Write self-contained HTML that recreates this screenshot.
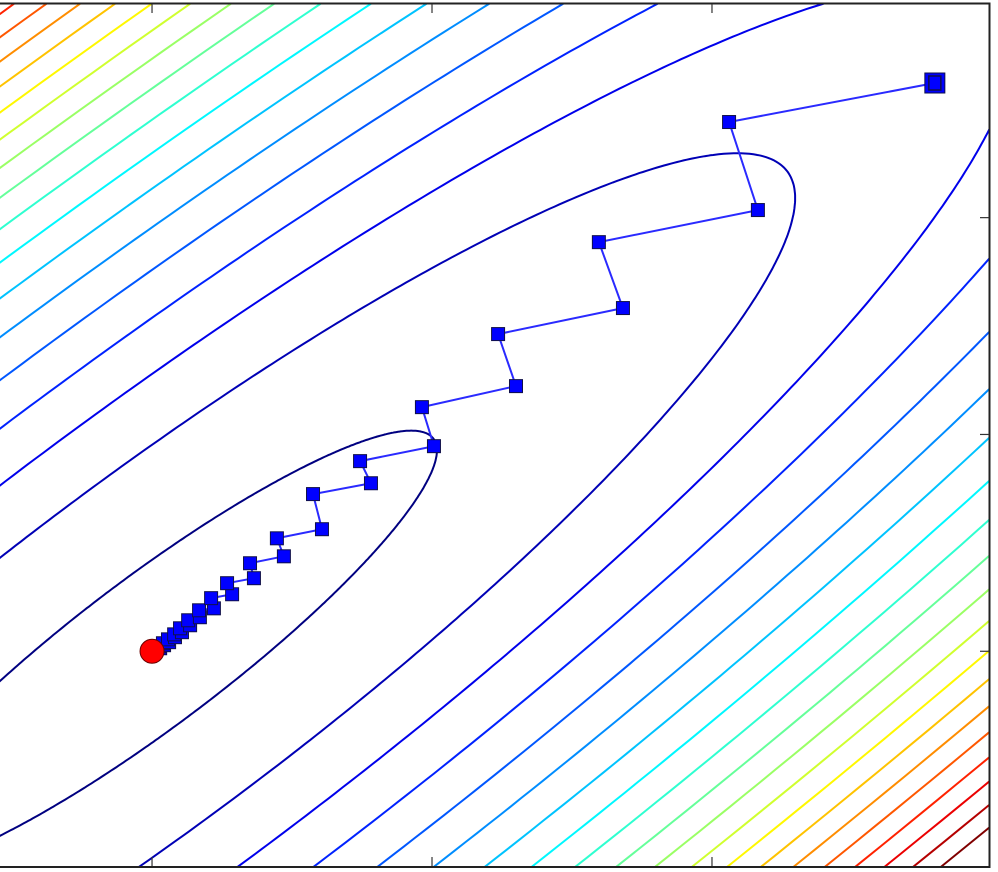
<!DOCTYPE html>
<html><head><meta charset="utf-8">
<style>
html,body{margin:0;padding:0;background:#fff;width:998px;height:872px;overflow:hidden;}
svg{display:block;overflow:hidden;}
</style></head>
<body>
<svg id="chart" width="998" height="872" viewBox="0 0 998 872" xmlns="http://www.w3.org/2000/svg">
  <defs><clipPath id="plotclip"><rect x="0" y="3" width="990" height="864"/></clipPath></defs>
  <rect x="0" y="0" width="998" height="872" fill="#fff"/>
  <g id="contours" clip-path="url(#plotclip)"></g>
  <g id="path" clip-path="url(#plotclip)"></g>
  <g id="axes"></g>
</svg>
<script>
// quadratic f(x,y) = qa*x^2 + qb*x*y + qc*y^2
const quadCoeffs = [1.0, -1.82, 1.0];
const contourLevels = [0.178,0.907,1.636,2.365,3.094,3.823,4.552,5.281,6.010,6.739,7.468,8.197,8.926,9.655,10.384,11.113,11.842,12.571,13.300,14.029];
const pathX = [2.796,2.061,2.164,1.596,1.682,1.236,1.300,0.964,1.007,0.743,0.782,0.575,0.607,0.446,0.471,0.350,0.364,0.268,0.286,0.211,0.221,0.168,0.171,0.129,0.136,0.100,0.107,0.079,0.082,0.057,0.061,0.039,0.043,0.025,0.029];
const pathY = [2.621,2.441,2.035,1.887,1.583,1.463,1.223,1.126,0.946,0.877,0.775,0.725,0.563,0.521,0.438,0.406,0.337,0.314,0.263,0.245,0.198,0.189,0.157,0.143,0.120,0.106,0.088,0.078,0.065,0.055,0.042,0.037,0.028,0.023,0.014];
const minimumPoint = [0, 0];
const xTicks = [0, 1, 2];
const yTicks = [0, 1, 2];

const X0=-0.543, X1=2.993, PX0=0, PX1=990;
const Y0=-0.995, Y1=2.99, PY0=867, PY1=3;
function sx(v){return PX0+(v-X0)/(X1-X0)*(PX1-PX0);}
function sy(v){return PY0+(v-Y0)/(Y1-Y0)*(PY1-PY0);}
const NS='http://www.w3.org/2000/svg';
function mk(tag,attrs,parent){const e=document.createElementNS(NS,tag);for(const k in attrs)e.setAttribute(k,attrs[k]);parent.appendChild(e);return e;}
function jet(t){
  const r=Math.min(Math.max(Math.min(4*t-1.5,-4*t+4.5),0),1);
  const g=Math.min(Math.max(Math.min(4*t-0.5,-4*t+3.5),0),1);
  const b=Math.min(Math.max(Math.min(4*t+0.5,-4*t+2.5),0),1);
  return 'rgb('+Math.round(r*255)+','+Math.round(g*255)+','+Math.round(b*255)+')';
}
const qa=quadCoeffs[0], qb=quadCoeffs[1]/2, qc=quadCoeffs[2];
const tr=(qa+qc)/2, df=Math.sqrt(((qa-qc)/2)**2+qb*qb);
const l1=tr-df, l2=tr+df;
const ang=0.5*Math.atan2(2*qb,qa-qc)+Math.PI/2;
const cg=document.getElementById('contours');
const lmin=contourLevels[0], lmax=contourLevels[contourLevels.length-1];
contourLevels.forEach((L,i)=>{
  const A=Math.sqrt(L/l1), B=Math.sqrt(L/l2);
  let d='';
  for(let k=0;k<=720;k++){
    const t=k/720*2*Math.PI;
    const u=A*Math.cos(t), v=B*Math.sin(t);
    const x=minimumPoint[0]+u*Math.cos(ang)-v*Math.sin(ang);
    const y=minimumPoint[1]+u*Math.sin(ang)+v*Math.cos(ang);
    const px=Math.max(-50,Math.min(1050,sx(x))), py=Math.max(-50,Math.min(920,sy(y)));
    d+=(k?'L':'M')+px.toFixed(1)+' '+py.toFixed(1);
  }
  const p=mk('path',{d:d,fill:'none',stroke:jet((L-lmin)/(lmax-lmin)),'stroke-width':2},cg);
  
  
});
const pg=document.getElementById('path');
let pd='';
pathX.forEach((x,i)=>{pd+=(i?'L':'M')+sx(x).toFixed(1)+' '+sy(pathY[i]).toFixed(1);});
pd+='L'+sx(minimumPoint[0]).toFixed(1)+' '+sy(minimumPoint[1]).toFixed(1);
const ln=mk('path',{d:pd,fill:'none',stroke:'#2a2aff','stroke-width':2},pg);


for(let i=pathX.length-1;i>=0;i--){
  const s=(i===0)?20:13;
  const r=mk('rect',{x:sx(pathX[i])-s/2,y:sy(pathY[i])-s/2,width:s,height:s,fill:'#0000ff',stroke:'#10104a','stroke-width':1},pg);
  
  
  if(i===0){
    const r2=mk('rect',{x:sx(pathX[i])-6,y:sy(pathY[i])-7,width:12,height:14,fill:'none',stroke:'#10104a','stroke-width':1.5},pg);
    
    
  }
}
const mc=mk('circle',{cx:sx(minimumPoint[0]),cy:sy(minimumPoint[1]),r:12,fill:'#ff0000',stroke:'#6a0000','stroke-width':1},pg);


const ag=document.getElementById('axes');
const fr=mk('path',{d:'M0 3.5H989.5V867H0',fill:'none',stroke:'#222','stroke-width':2},ag);


xTicks.forEach(v=>{
  const x=sx(v);
  const t1=mk('line',{x1:x,y1:4,x2:x,y2:13,stroke:'#333','stroke-width':1.2},ag);
  
  
  const t2=mk('line',{x1:x,y1:866,x2:x,y2:857,stroke:'#333','stroke-width':1.2},ag);
  
  
});
yTicks.forEach(v=>{
  const y=sy(v);
  const t=mk('line',{x1:989,y1:y,x2:980,y2:y,stroke:'#333','stroke-width':1.2},ag);
  
  
});
</script>
</body></html>
